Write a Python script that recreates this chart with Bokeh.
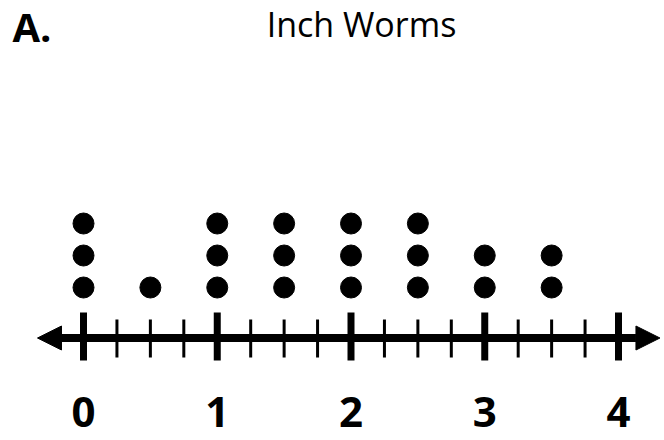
from bokeh.plotting import figure
from bokeh.models import Range1d, Arrow, NormalHead, Label
from bokeh.core.properties import value
from bokeh.embed import file_html
from bokeh.resources import INLINE

# Data
positions = [0, 0.5, 1, 1.5, 2, 2.5, 3, 3.5]
counts = [3, 1, 3, 3, 3, 3, 2, 2]
major_ticks = [0, 1, 2, 3, 4]
major_labels = ["0", "1", "2", "3", "4"]
minor_ticks = [0.25, 0.5, 0.75, 1.25, 1.5, 1.75, 2.25, 2.5, 2.75, 3.25, 3.5, 3.75]
title_text = "Inch Worms"
panel_text = "A."

# build stacked dot coordinates
dot_x, dot_y = [], []
for pos, c in zip(positions, counts):
    for k in range(1, c + 1):
        dot_x.append(pos)
        dot_y.append(k)

PX_PER_UNIT = 133.75
p = figure(width=664, height=440, output_backend="svg", toolbar_location=None,
           x_range=Range1d(-83 / PX_PER_UNIT, 581 / PX_PER_UNIT),
           y_range=Range1d(-3.781, 9.969), min_border=0)
p.axis.visible = False
p.grid.visible = False
p.outline_line_color = None
p.background_fill_color = "white"
p.border_fill_color = "white"

line_y = -0.578
TXT_SHIFT = 0.42

# number line with arrows
p.add_layout(Arrow(start=NormalHead(size=24, fill_color="black", line_color="black"),
                   end=NormalHead(size=24, fill_color="black", line_color="black"),
                   x_start=-0.344, x_end=4.31, y_start=line_y, y_end=line_y,
                   line_width=8, line_color="black"))

# minor ticks
p.segment(x0=minor_ticks, x1=minor_ticks, y0=[0.0] * len(minor_ticks),
          y1=[-1.1875] * len(minor_ticks), line_width=3, line_color="black",
          line_cap="butt")
# major ticks
p.segment(x0=major_ticks, x1=major_ticks, y0=[0.219] * len(major_ticks),
          y1=[-1.281] * len(major_ticks), line_width=7, line_color="black",
          line_cap="butt")

# tick labels
p.text(x=major_ticks, y=[-3.31 + TXT_SHIFT] * len(major_ticks), text=major_labels,
       text_font=value("Open Sans"), text_font_style="bold",
       text_font_size="42px", text_align="center", text_baseline="alphabetic",
       text_color="black")

# dots
p.scatter(dot_x, dot_y, size=21, fill_color="black", line_color="black")

# titles
p.add_layout(Label(x=(361 - 83) / PX_PER_UNIT, y=8.8125 + TXT_SHIFT, text=title_text,
                   text_font="Open Sans", text_font_size="34px",
                   text_align="center", text_baseline="alphabetic",
                   text_color="black"))
p.add_layout(Label(x=(12 - 83) / PX_PER_UNIT, y=8.74 + TXT_SHIFT, text=panel_text,
                   text_font="Open Sans", text_font_style="bold",
                   text_font_size="40px", text_align="left",
                   text_baseline="alphabetic", text_color="black"))

open("out.html", "w").write(file_html(p, INLINE))
